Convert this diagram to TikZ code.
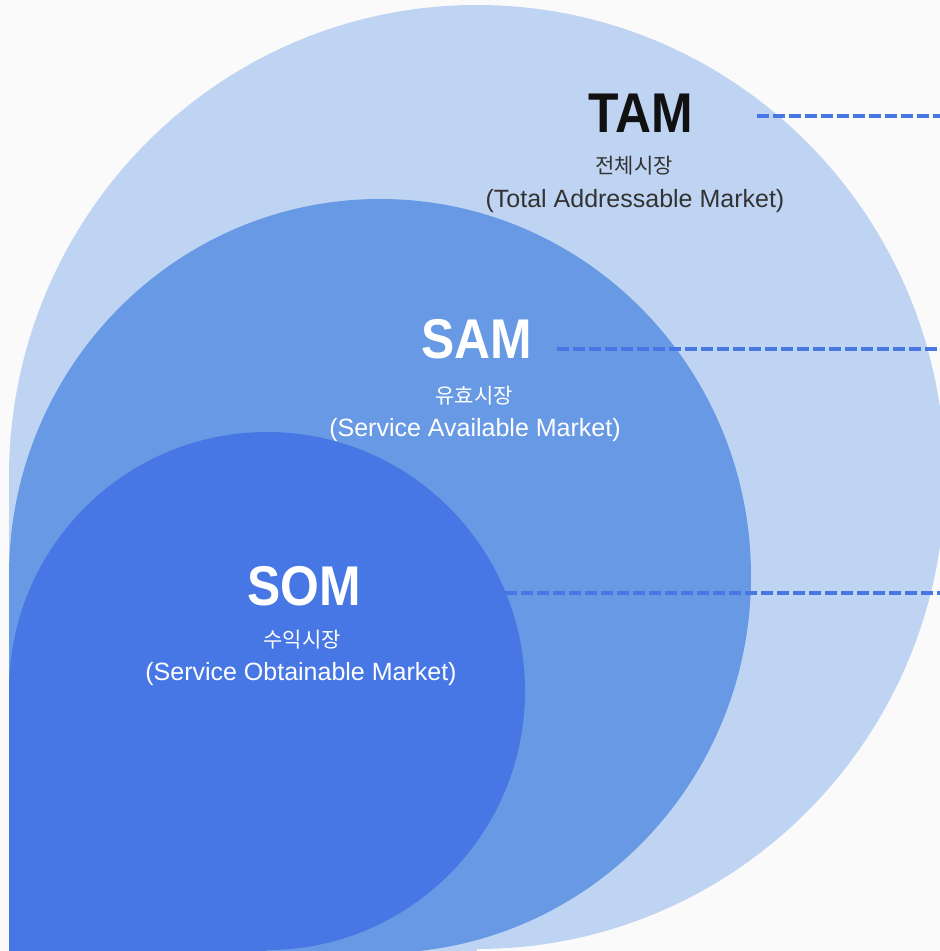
\documentclass[tikz,border=0pt]{standalone}
\usepackage{fontspec}
\setmainfont{Liberation Sans}
\newfontfamily\kr{Noto Sans CJK KR}

\definecolor{pagebg}{HTML}{FAFAFA}
\definecolor{tamfill}{HTML}{BFD4F2}
\definecolor{samfill}{HTML}{6799E4}
\definecolor{somfill}{HTML}{4677E4}
\definecolor{leader}{HTML}{4677E4}
\definecolor{inktitle}{HTML}{111111}
\definecolor{inktext}{HTML}{333333}

\tikzset{
  title/.style={font=\fontsize{56}{62}\selectfont\bfseries, inner sep=0pt, anchor=base},
  korean/.style={font=\kr\fontsize{21}{25}\selectfont, inner sep=0pt},
  gloss/.style={font=\fontsize{25}{30}\selectfont, inner sep=0pt, anchor=base},
  leaderline/.style={draw=leader, line width=4pt, dash pattern=on 12pt off 4pt},
}

\begin{document}
\begin{tikzpicture}[x=1pt,y=-1pt]
\useasboundingbox (0,0) rectangle (940,951);
\fill[pagebg] (0,0) rectangle (940,951);

% three nested market areas: rounded on top and right, square at the lower left
\begin{scope}
  \clip (0,0) rectangle (940,951);
  \fill[tamfill] (477,477) ellipse [x radius=468, y radius=472];
  \fill[tamfill] (9,477) rectangle (477,960);
  \fill[samfill] (380,576) ellipse [x radius=371, y radius=377];
  \fill[samfill] (9,576) rectangle (380,960);
  \fill[somfill] (267,691) ellipse [x radius=258, y radius=259];
  \fill[somfill] (9,691) rectangle (267,960);
\end{scope}

% labels
\node[title, text=inktitle] (tam) at (641,132) {\scalebox{0.89}[1]{TAM}};
\node[korean, text=inktext] (tamkr) at (634,166) {전체시장};
\node[gloss, text=inktext] (tamen) at (635,207) {(Total Addressable Market)};

\node[title, text=white] (sam) at (477,358) {\scalebox{0.89}[1]{SAM}};
\node[korean, text=white] (samkr) at (474,396) {유효시장};
\node[gloss, text=white] (samen) at (475,436) {(Service Available Market)};

\node[title, text=white] (som) at (304,605) {\scalebox{0.89}[1]{SOM}};
\node[korean, text=white] (somkr) at (302,640) {수익시장};
\node[gloss, text=white] (somen) at (301,680) {(Service Obtainable Market)};

% dashed leader lines running off to the right
\coordinate (tamA) at (757,116);
\coordinate (tamB) at (940,116);
\coordinate (samA) at (557,349);
\coordinate (samB) at (940,349);
\coordinate (somA) at (505,593);
\coordinate (somB) at (940,593);
\draw[leaderline] (tamA) -- (tamB);
\draw[leaderline] (samA) -- (samB);
\draw[leaderline] (somA) -- (somB);
\end{tikzpicture}
\end{document}
